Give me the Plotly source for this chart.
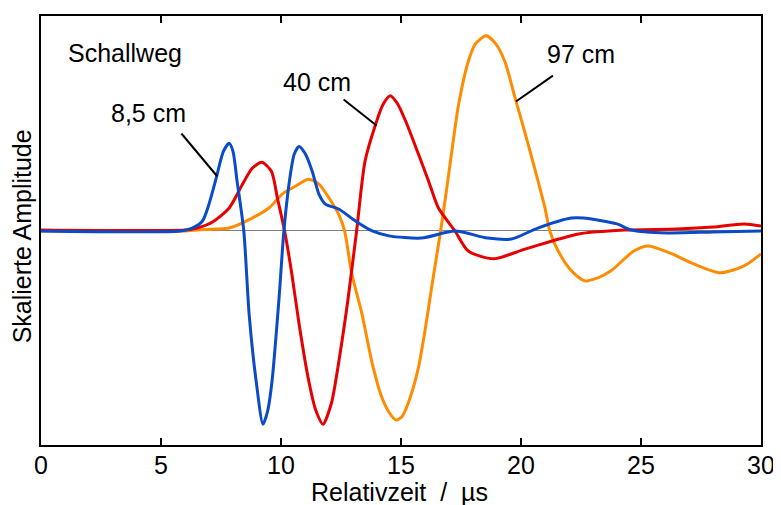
import plotly.graph_objects as go

# Relative time (µs) and scaled amplitude for each sound path
t_85 = [0, 5.8, 6.3, 6.73, 7.0, 7.3, 7.6, 7.84, 8.0, 8.17,
        8.45, 8.67, 8.96, 9.25, 9.45, 9.63, 9.92, 10.12, 10.35, 10.55,
        10.75, 11.0, 11.3, 11.58, 11.85, 12.4, 13.1, 13.8, 14.5, 15.85,
        17.25, 18.6, 19.6, 20.7, 22.1, 22.6, 24.0, 24.6, 26.1, 28.0, 30.0]
a_85 = [0, 0, 0.015, 0.051, 0.137, 0.269, 0.406, 0.447, 0.406, 0.254,
        0, -0.421, -0.761, -0.985, -0.914, -0.761, -0.340, 0, 0.254, 0.391,
        0.431, 0.396, 0.305, 0.188, 0.137, 0.112, 0.051, 0, -0.025, -0.036,
        0, -0.036, -0.041, 0.015, 0.066, 0.066, 0.036, 0.005, -0.010, -0.005, 0]

t_40 = [0, 6.0, 6.5, 7.15, 7.84, 8.4, 8.8, 9.2, 9.6, 9.85,
        10.15, 10.45, 10.75, 11.15, 11.45, 11.75, 12.1, 12.5, 12.8, 13.15,
        13.5, 13.94, 14.25, 14.55, 14.85, 15.2, 15.73, 16.15, 16.56, 17.25,
        17.8, 18.85, 20.2, 22.4, 24.3, 26.5, 28.0, 29.3, 30.0]
a_40 = [0.005, 0.005, 0.015, 0.046, 0.117, 0.239, 0.320, 0.350, 0.305, 0.168,
        0, -0.218, -0.472, -0.761, -0.914, -0.985, -0.878, -0.594, -0.340, 0,
        0.355, 0.543, 0.645, 0.690, 0.650, 0.558, 0.391, 0.254, 0.117, 0,
        -0.102, -0.142, -0.091, -0.015, 0.005, 0.010, 0.020, 0.036, 0.025]

t_97 = [0, 6.0, 6.5, 7.3, 7.84, 8.8, 9.5, 10.05, 10.6, 11.15,
        11.58, 12.0, 12.4, 12.65, 12.95, 13.37, 13.8, 14.2, 14.5, 14.8,
        15.05, 15.3, 15.7, 16.0, 16.3, 16.65, 16.85, 17.1, 17.4, 17.8,
        18.1, 18.55, 18.95, 19.33, 19.75, 20.15, 20.6, 21.0, 21.2, 21.55,
        22.1, 22.65, 23.2, 23.75, 24.7, 25.3, 26.2, 27.2, 28.3, 29.3, 30.0]
a_97 = [0, 0, 0.005, 0.010, 0.015, 0.066, 0.117, 0.188, 0.228, 0.264,
        0.239, 0.168, 0.086, 0, -0.218, -0.421, -0.675, -0.848, -0.924, -0.964,
        -0.944, -0.878, -0.711, -0.508, -0.269, 0, 0.168, 0.391, 0.645, 0.863,
        0.954, 0.995, 0.954, 0.863, 0.680, 0.508, 0.305, 0.117, 0, -0.102,
        -0.203, -0.254, -0.239, -0.203, -0.102, -0.076, -0.112, -0.168, -0.213, -0.178, -0.117]

x_ticks = [0, 5, 10, 15, 20, 25, 30]

# Labels: text, text position, leader line start and end (data units)
labels = [
    ("8,5 cm", 4.48, 0.60, 5.85, 0.497, 7.34, 0.279),
    ("40 cm", 11.49, 0.76, 12.61, 0.670, 13.98, 0.538),
    ("97 cm", 22.49, 0.90, 21.33, 0.792, 19.79, 0.660),
]

FONT = "Arial, 'Liberation Sans', sans-serif"
FS = 25

fig = go.Figure()
series = [(t_97, a_97, "#FF8C00", "97 cm"),
          (t_40, a_40, "#E60000", "40 cm"),
          (t_85, a_85, "#0A4BC8", "8,5 cm")]
for t, a, c, n in series:
    fig.add_trace(go.Scatter(x=t, y=a, mode="lines", name=n,
                             line=dict(color=c, width=3, shape="spline", smoothing=0.7),
                             showlegend=False, hoverinfo="skip"))

for txt, tx, ty, x0, y0, x1, y1 in labels:
    fig.add_annotation(x=tx, y=ty, xref="x", yref="y", text=txt, showarrow=False,
                       font=dict(size=FS, color="black", family=FONT))
    fig.add_shape(type="line", x0=x0, y0=y0, x1=x1, y1=y1, xref="x", yref="y",
                  line=dict(color="black", width=2))

fig.add_annotation(x=3.49, y=0.905, xref="x", yref="y", text="Schallweg", showarrow=False,
                   font=dict(size=FS, color="black", family=FONT))

fig.add_annotation(x=0.4986, y=-0.109, xref="paper", yref="paper",
                   text="Relativzeit\u00a0\u00a0/\u00a0\u00a0µs", showarrow=False,
                   font=dict(size=FS, color="black", family=FONT), yanchor="middle")
fig.add_annotation(x=-0.026, y=0.487, xref="paper", yref="paper",
                   text="Skalierte Amplitude", showarrow=False, textangle=-90,
                   font=dict(size=FS, color="black", family=FONT), xanchor="center")

# page body has an 8px margin: size/margins compensate so the plot area
# lands at the same place as in the reference
fig.update_layout(
    width=773, height=505,
    margin=dict(l=33, r=16, t=6, b=68),
    paper_bgcolor="white", plot_bgcolor="white",
    font=dict(family=FONT, size=FS, color="black"),
    xaxis=dict(range=[0, 30], tickvals=x_ticks, ticks="inside", ticklen=7, tickwidth=1.5,
               tickcolor="black", showline=True, linewidth=2, linecolor="black",
               mirror="ticks", showgrid=False, zeroline=False, ticklabelstandoff=-3,
               tickfont=dict(size=FS, family=FONT)),
    yaxis=dict(range=[-1.091, 1.096], showticklabels=False, ticks="",
               showline=True, linewidth=2, linecolor="black", mirror=True,
               showgrid=False, zeroline=True, zerolinecolor="#808080", zerolinewidth=1),
)

fig.write_html("out.html")
